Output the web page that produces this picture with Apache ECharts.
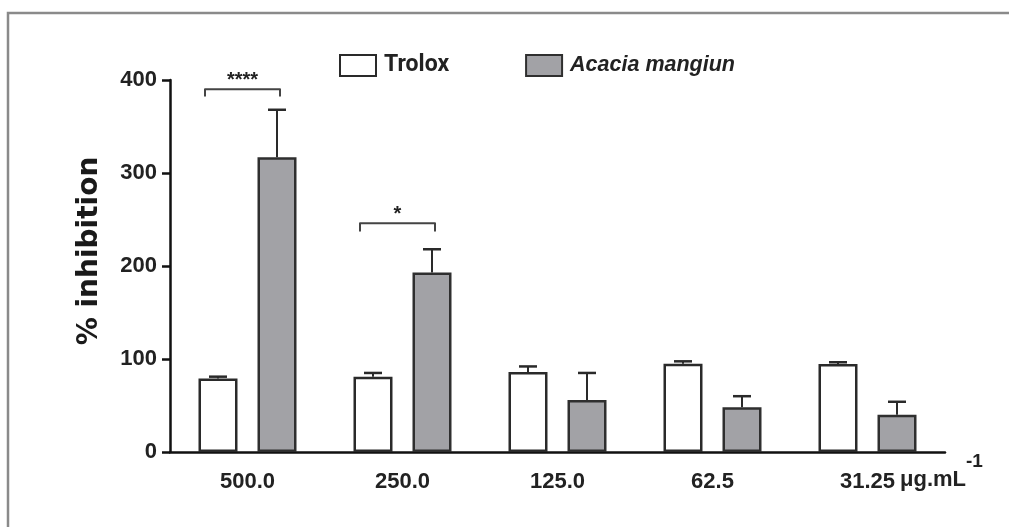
<!DOCTYPE html>
<html>
<head>
<meta charset="utf-8">
<script src="https://cdn.jsdelivr.net/npm/echarts@6/dist/echarts.min.js"></script>
<style>html,body{margin:0;padding:0;background:#fff}#c{width:1009px;height:527px}</style>
</head>
<body>
<div id="c"></div>
<script>
const categories = ['500.0', '250.0', '125.0', '62.5', '31.25'];
const troloxMean = [79, 81, 86, 95, 94.5];
const troloxErr = [2, 4, 6, 2.5, 2];
const acaciaMean = [317, 193, 56, 48, 40];
const acaciaErr = [51, 25, 29, 12, 14];
const sigCategory = [0, 1];
const sigTop = [390, 246];
const sigFoot = [383, 238];
const sigLabel = ['****', '*'];
const yTicks = [0, 100, 200, 300, 400];

const BAR_W = 39, BAR_GAP = 20;
const OFF = (BAR_W + BAR_GAP) / 2;

function errRender(offset) {
  return function (params, api) {
    const i = api.value(0), m = api.value(1), e = api.value(2);
    const b = api.coord([i, m]);
    const t = api.coord([i, m + e]);
    const x = b[0] + offset;
    return {
      type: 'group',
      children: [
        { type: 'line', shape: { x1: x, y1: b[1], x2: x, y2: t[1] }, style: { stroke: '#2a2a2a', lineWidth: 2 } },
        { type: 'line', shape: { x1: x - 9, y1: t[1], x2: x + 9, y2: t[1] }, style: { stroke: '#2a2a2a', lineWidth: 2.5 } }
      ]
    };
  };
}

function sigRender(params, api) {
  const i = api.value(0), top = api.value(1), foot = api.value(2);
  const c = api.coord([i, top]);
  const f = api.coord([i, foot]);
  const x1 = c[0] - OFF - 13, x2 = c[0] + OFF + 3;
  const label = sigLabel[params.dataIndex];
  return {
    type: 'group',
    children: [
      { type: 'polyline', shape: { points: [[x1, f[1]], [x1, c[1]], [x2, c[1]], [x2, f[1]]] },
        style: { stroke: '#444', lineWidth: 2, fill: null, lineJoin: 'round', lineCap: 'round' } },
      { type: 'text', x: (x1 + x2) / 2, y: c[1] - 19,
        style: { text: label, fontSize: 20, fontWeight: 'bold', fontFamily: 'Liberation Sans', fill: '#222',
                 align: 'center', verticalAlign: 'top' } }
    ]
  };
}

const chart = echarts.init(document.getElementById('c'), null, { renderer: 'canvas' });
chart.setOption({
  backgroundColor: '#fff',
  animation: false,
  graphic: [
    { type: 'rect', shape: { x: 8, y: 13, width: 1200, height: 700 }, style: { fill: null, stroke: '#8a8a8a', lineWidth: 2.5 }, z: 100 },
    { type: 'text', x: 900, y: 480, style: { text: 'μg.mL', fontSize: 22, fontWeight: 'bold', fontFamily: 'Liberation Sans', fill: '#222', verticalAlign: 'middle' } },
    { type: 'text', x: 966, y: 462, style: { text: '-1', fontSize: 19, fontWeight: 'bold', fontFamily: 'Liberation Sans', fill: '#222', verticalAlign: 'middle' } }
  ],
  legend: {
    data: ['Trolox', 'Acacia mangiun'],
    left: 334, top: 49,
    itemWidth: 36, itemHeight: 21, itemGap: 76,
    icon: 'rect',
    formatter: function (n) { return n === 'Trolox' ? '{b|' + n + '}' : '{i|' + n + '}'; },
    textStyle: {
      padding: [0, 0, 0, 3],
      rich: {
        b: { fontFamily: 'Roboto', fontWeight: 'bold', fontSize: 23, color: '#222' },
        i: { fontFamily: 'Liberation Sans', fontStyle: 'italic', fontWeight: 'bold', fontSize: 21.5, color: '#222' }
      }
    }
  },
  grid: { left: 170, right: 64, top: 80, bottom: 75, containLabel: false },
  xAxis: {
    type: 'category',
    data: categories,
    axisLine: { lineStyle: { color: '#111', width: 2.5 } },
    axisTick: { alignWithLabel: true, length: 9, lineStyle: { color: '#111', width: 2.5 } },
    axisLabel: { margin: 19, fontSize: 22, fontWeight: 'bold', fontFamily: 'Liberation Sans', color: '#222' },
    splitLine: { show: false }
  },
  yAxis: {
    type: 'value',
    min: 0, max: 400, interval: 100,
    name: '% inhibition',
    nameLocation: 'middle',
    nameRotate: 90,
    nameGap: 66,
    nameTextStyle: { fontFamily: 'DejaVu Sans', fontWeight: 'bold', fontSize: 28, color: '#1a1a1a', padding: [0, 0, 0, 30] },
    axisLine: { show: true, lineStyle: { color: '#111', width: 2.5 } },
    axisTick: { show: true, length: 8, lineStyle: { color: '#111', width: 2.5 } },
    axisLabel: { margin: 13, fontSize: 22, fontWeight: 'bold', fontFamily: 'Liberation Sans', color: '#222', formatter: function (v) { return yTicks.indexOf(v) >= 0 ? String(v) : ''; } },
    splitLine: { show: false }
  },
  series: [
    {
      name: 'Trolox', type: 'bar', data: troloxMean,
      barWidth: BAR_W, barGap: (BAR_GAP / BAR_W * 100).toFixed(1) + '%',
      itemStyle: { color: '#ffffff', borderColor: '#2a2a2a', borderWidth: 2.5 }
    },
    {
      name: 'Acacia mangiun', type: 'bar', data: acaciaMean,
      barWidth: BAR_W,
      itemStyle: { color: '#a2a2a6', borderColor: '#2f2f2f', borderWidth: 2.5 }
    },
    {
      type: 'custom', name: 'errT', z: 3, renderItem: errRender(-OFF),
      encode: { x: 0, y: 1 },
      data: troloxMean.map(function (m, i) { return [i, m, troloxErr[i]]; })
    },
    {
      type: 'custom', name: 'errA', z: 3, renderItem: errRender(OFF),
      encode: { x: 0, y: 1 },
      data: acaciaMean.map(function (m, i) { return [i, m, acaciaErr[i]]; })
    },
    {
      type: 'custom', name: 'sig', z: 3, renderItem: sigRender,
      encode: { x: 0, y: 1 },
      data: sigCategory.map(function (c, k) { return [c, sigTop[k], sigFoot[k]]; })
    }
  ]
});
</script>
</body>
</html>
